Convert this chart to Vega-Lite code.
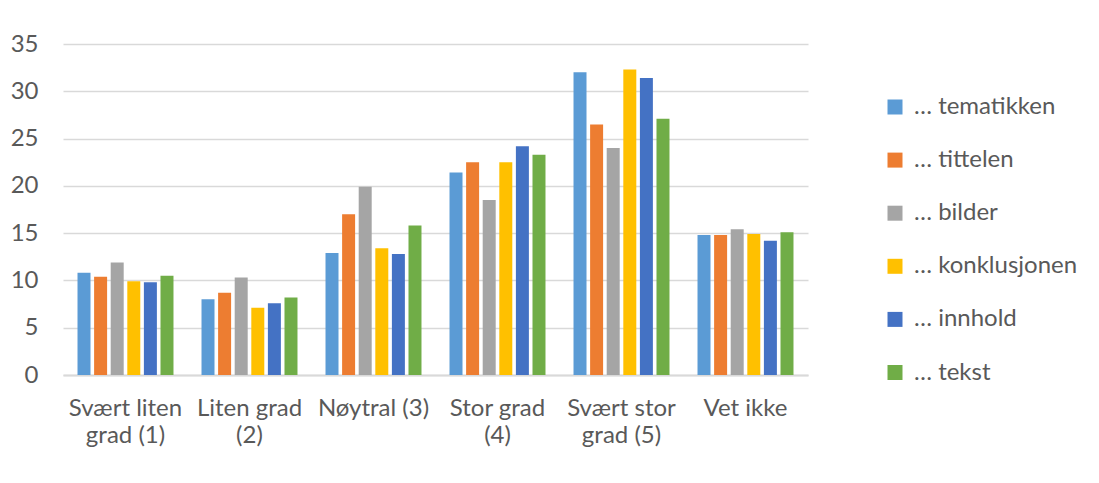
{
  "$schema": "https://vega.github.io/schema/vega-lite/v6.json",
  "width": 745,
  "height": 331,
  "autosize": {"type": "none"},
  "padding": {"left": 63, "top": 44, "right": 291, "bottom": 108},
  "background": "white",
  "config": {
    "view": {"stroke": null},
    "font": "Lato",
    "axis": {"labelFont": "Lato", "labelColor": "#595959", "labelFontSize": 24},
    "legend": {"labelFont": "Lato", "labelColor": "#595959", "labelFontSize": 24}
  },
  "data": {
    "values": [
      {"grad": "Svært liten grad (1)", "serie": "… tematikken", "prosent": 10.8},
      {"grad": "Svært liten grad (1)", "serie": "… tittelen", "prosent": 10.4},
      {"grad": "Svært liten grad (1)", "serie": "… bilder", "prosent": 11.9},
      {"grad": "Svært liten grad (1)", "serie": "… konklusjonen", "prosent": 9.9},
      {"grad": "Svært liten grad (1)", "serie": "… innhold", "prosent": 9.8},
      {"grad": "Svært liten grad (1)", "serie": "… tekst", "prosent": 10.5},
      {"grad": "Liten grad (2)", "serie": "… tematikken", "prosent": 8.0},
      {"grad": "Liten grad (2)", "serie": "… tittelen", "prosent": 8.7},
      {"grad": "Liten grad (2)", "serie": "… bilder", "prosent": 10.3},
      {"grad": "Liten grad (2)", "serie": "… konklusjonen", "prosent": 7.1},
      {"grad": "Liten grad (2)", "serie": "… innhold", "prosent": 7.6},
      {"grad": "Liten grad (2)", "serie": "… tekst", "prosent": 8.2},
      {"grad": "Nøytral (3)", "serie": "… tematikken", "prosent": 12.9},
      {"grad": "Nøytral (3)", "serie": "… tittelen", "prosent": 17.0},
      {"grad": "Nøytral (3)", "serie": "… bilder", "prosent": 19.9},
      {"grad": "Nøytral (3)", "serie": "… konklusjonen", "prosent": 13.4},
      {"grad": "Nøytral (3)", "serie": "… innhold", "prosent": 12.8},
      {"grad": "Nøytral (3)", "serie": "… tekst", "prosent": 15.8},
      {"grad": "Stor grad (4)", "serie": "… tematikken", "prosent": 21.4},
      {"grad": "Stor grad (4)", "serie": "… tittelen", "prosent": 22.5},
      {"grad": "Stor grad (4)", "serie": "… bilder", "prosent": 18.5},
      {"grad": "Stor grad (4)", "serie": "… konklusjonen", "prosent": 22.5},
      {"grad": "Stor grad (4)", "serie": "… innhold", "prosent": 24.2},
      {"grad": "Stor grad (4)", "serie": "… tekst", "prosent": 23.3},
      {"grad": "Svært stor grad (5)", "serie": "… tematikken", "prosent": 32.0},
      {"grad": "Svært stor grad (5)", "serie": "… tittelen", "prosent": 26.5},
      {"grad": "Svært stor grad (5)", "serie": "… bilder", "prosent": 24.0},
      {"grad": "Svært stor grad (5)", "serie": "… konklusjonen", "prosent": 32.3},
      {"grad": "Svært stor grad (5)", "serie": "… innhold", "prosent": 31.4},
      {"grad": "Svært stor grad (5)", "serie": "… tekst", "prosent": 27.1},
      {"grad": "Vet ikke", "serie": "… tematikken", "prosent": 14.8},
      {"grad": "Vet ikke", "serie": "… tittelen", "prosent": 14.8},
      {"grad": "Vet ikke", "serie": "… bilder", "prosent": 15.4},
      {"grad": "Vet ikke", "serie": "… konklusjonen", "prosent": 14.9},
      {"grad": "Vet ikke", "serie": "… innhold", "prosent": 14.2},
      {"grad": "Vet ikke", "serie": "… tekst", "prosent": 15.1}
    ]
  },
  "mark": {"type": "bar"},
  "encoding": {
    "x": {
      "field": "grad",
      "type": "nominal",
      "sort": null,
      "title": null,
      "scale": {"paddingInner": 0.226, "paddingOuter": 0.117},
      "axis": {
        "labelAngle": 0,
        "domainColor": "#d9d9d9",
        "domainWidth": 2,
        "ticks": false,
        "labelPadding": 21,
        "labelLineHeight": 27,
        "labelLimit": 200,
        "labelExpr": "datum.label == 'Svært liten grad (1)' ? ['Svært liten', 'grad (1)'] : datum.label == 'Liten grad (2)' ? ['Liten grad', '(2)'] : datum.label == 'Stor grad (4)' ? ['Stor grad', '(4)'] : datum.label == 'Svært stor grad (5)' ? ['Svært stor', 'grad (5)'] : datum.label"
      }
    },
    "xOffset": {
      "field": "serie",
      "type": "nominal",
      "sort": null,
      "scale": {"paddingInner": 0.217, "paddingOuter": 0}
    },
    "y": {
      "field": "prosent",
      "type": "quantitative",
      "title": null,
      "scale": {"domain": [0, 35], "nice": false},
      "axis": {
        "values": [0, 5, 10, 15, 20, 25, 30, 35],
        "domain": false,
        "ticks": false,
        "labelPadding": 25,
        "gridColor": "#d9d9d9",
        "gridWidth": 1.5
      }
    },
    "color": {
      "field": "serie",
      "type": "nominal",
      "sort": null,
      "scale": {
        "domain": ["… tematikken", "… tittelen", "… bilder", "… konklusjonen", "… innhold", "… tekst"],
        "range": ["#5B9BD5", "#ED7D31", "#A5A5A5", "#FFC000", "#4472C4", "#70AD47"]
      },
      "legend": {
        "title": null,
        "orient": "none",
        "legendX": 820,
        "legendY": 51,
        "symbolType": "square",
        "symbolSize": 225,
        "symbolStrokeWidth": 0,
        "labelOffset": 7,
        "labelLimit": 300,
        "rowPadding": 29.1
      }
    }
  }
}
